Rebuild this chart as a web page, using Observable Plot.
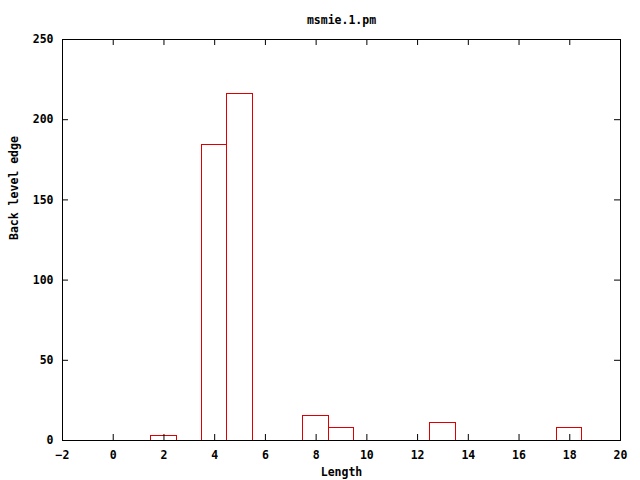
<!DOCTYPE html>
<html>
<head>
<meta charset="utf-8">
<script src="https://cdn.jsdelivr.net/npm/d3@7"></script>
<script src="https://cdn.jsdelivr.net/npm/@observablehq/plot@0.6"></script>
<style>
  html, body { margin: 0; padding: 0; background: #fff; }
</style>
</head>
<body>
<div id="chart"></div>
<script>
const title = "msmie.1.pm";
const xLabel = "Length";
const yLabel = "Back level edge";
const lengths = [2, 4, 5, 8, 9, 13, 18];
const counts = [3, 184, 216, 15, 8, 11, 8];
const xTicks = [-2, 0, 2, 4, 6, 8, 10, 12, 14, 16, 18, 20];
const yTicks = [0, 50, 100, 150, 200, 250];

const data = lengths.map((l, i) => ({length: l, count: counts[i]}));

const W = 640, H = 480;
const mL = 62, mR = 20, mT = 39, mB = 40;
const frameW = W - mL - mR, frameH = H - mT - mB;
const tick = 6;

const chart = Plot.plot({
  width: W,
  height: H,
  marginLeft: mL,
  marginRight: mR,
  marginTop: mT,
  marginBottom: mB,
  style: {fontFamily: "'DejaVu Sans Mono', monospace", fontSize: "11.5px", fontWeight: "bold", background: "#fff", color: "#000"},
  x: {domain: [-2, 20], axis: null},
  y: {domain: [0, 250], axis: null},
  marks: [
    Plot.rect(data, {x1: d => d.length - 0.5, x2: d => d.length + 0.5, y1: 0, y2: "count", fill: "none", stroke: "#dd0000", strokeWidth: 1, shapeRendering: "crispEdges"}),
    Plot.tickX(xTicks, {x: d => d, insetTop: frameH - tick, stroke: "#000"}),
    Plot.tickX(xTicks, {x: d => d, insetBottom: frameH - tick, stroke: "#000"}),
    Plot.tickY(yTicks, {y: d => d, insetRight: frameW - tick, stroke: "#000"}),
    Plot.tickY(yTicks, {y: d => d, insetLeft: frameW - tick, stroke: "#000"}),
    Plot.frame({stroke: "#000"}),
    Plot.axisX(xTicks, {tickSize: 0, tickPadding: 10, label: null}),
    Plot.axisY(yTicks, {tickSize: 0, tickPadding: 9, label: null}),
    Plot.text([title], {frameAnchor: "top", dy: -24, fontWeight: "bold"}),
    Plot.text([xLabel], {frameAnchor: "bottom", dy: 35, fontWeight: "bold"}),
    Plot.text([yLabel], {frameAnchor: "left", dx: -48, rotate: -90, fontWeight: "bold"})
  ]
});
document.getElementById("chart").appendChild(chart);
</script>
</body>
</html>
